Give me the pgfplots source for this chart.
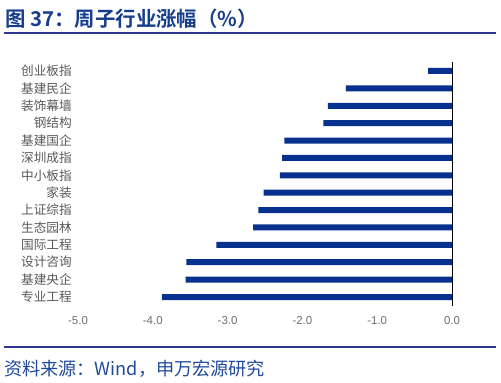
\documentclass[border=0pt]{standalone}
\usepackage{fontspec}
\setmainfont{Liberation Sans}
\newfontfamily\cjk{Noto Sans CJK SC}
\newfontfamily\cjkb{Noto Sans CJK SC Bold}
\usepackage{pgfplots}
\pgfplotsset{compat=1.18}
\definecolor{barblue}{HTML}{06318F}
\definecolor{titleblue}{HTML}{173E8C}
\definecolor{lineblue}{HTML}{2E3592}
\definecolor{srcblue}{HTML}{1F4A9C}
\definecolor{lblgray}{HTML}{595959}
\definecolor{tickgray}{HTML}{6E6E6E}
\begin{document}
\begin{tikzpicture}[x=1bp,y=1bp]
\path[use as bounding box] (0,0) rectangle (501,382);
\node[anchor=west, inner sep=0pt, text=titleblue, font=\cjkb\fontsize{20.5}{21}\selectfont] at (5,363) {图 37：周子行业涨幅（\%）};
\draw[lineblue, line width=2bp] (4,349) -- (496,349);
\draw[lineblue, line width=2bp] (4,35) -- (496,35);
\node[anchor=west, inner sep=0pt, text=srcblue, font=\cjk\fontsize{18.2}{19}\selectfont] at (4,13) {资料来源：Wind，申万宏源研究};
\begin{axis}[
  at={(78bp,76.3bp)}, anchor=south west,
  scale only axis, width=374bp, height=243.4bp,
  xbar, bar width=6bp, bar shift=0pt,
  xmin=-5, xmax=0, ymin=-0.5, ymax=13.5,
  xtick={-5,-4,-3,-2,-1,0},
  ytick={0,...,13},
  yticklabels={专业工程,基建央企,设计咨询,国际工程,生态园林,上证综指,家装,中小板指,深圳成指,基建国企,钢结构,装饰幕墙,基建民企,创业板指},
  axis line style={draw=none},
  major tick length=0pt,
  extra x ticks={0}, extra x tick labels={},
  extra x tick style={grid=major, major grid style={black, line width=1bp}},
  /pgf/number format/assume math mode=true,
  /pgf/number format/.cd, fixed, fixed zerofill, precision=1, /pgfplots/.cd,
  x tick label style={anchor=north, inner sep=0pt, yshift=-10.5bp, text=tickgray, font=\fontsize{11.5}{12}\selectfont},
  y tick label style={anchor=east, inner sep=0pt, xshift=-6bp, text=lblgray, font=\cjk\fontsize{12.7}{13}\selectfont},
  clip=false,
]
\addplot[fill=barblue, draw=none] coordinates {
(-3.88,0) (-3.56,1) (-3.55,2) (-3.15,3) (-2.66,4) (-2.59,5) (-2.52,6) (-2.30,7) (-2.27,8) (-2.24,9) (-1.72,10) (-1.66,11) (-1.42,12) (-0.32,13)
};
\end{axis}
\end{tikzpicture}
\end{document}
